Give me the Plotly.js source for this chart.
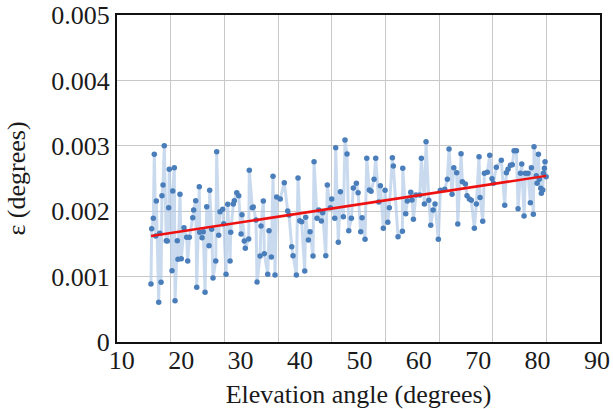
<!DOCTYPE html>
<html>
<head>
<meta charset="utf-8">
<script src="https://cdn.plot.ly/plotly-3.0.1.min.js"></script>
<style>html,body{margin:0;padding:0;background:#fff;}#chart{width:613px;height:409px;}</style>
</head>
<body>
<div id="chart"></div>
<script>
// Elevation angle (degrees)
const elevation = [
14.92,15.04,15.31,15.48,15.72,15.82,16.22,16.39,16.61,16.77,16.95,17.16,17.50,17.67,17.90,18.00,18.46,18.58,18.85,18.97,
19.35,19.47,19.80,20.02,20.48,20.93,21.10,21.38,21.95,22.11,22.45,22.62,23.05,23.12,23.51,23.72,24.02,24.30,24.69,24.80,
25.14,25.36,25.82,25.98,26.32,26.54,27.00,27.16,27.55,27.84,28.23,28.34,28.78,28.95,29.36,29.69,30.08,30.24,30.63,30.80,
31.37,31.47,31.98,32.14,32.60,32.77,33.28,33.44,33.83,34.00,34.57,34.79,35.18,35.46,35.80,36.08,36.68,37.36,37.93,38.16,
38.61,38.83,39.39,39.67,39.96,40.29,40.80,40.96,41.41,41.69,42.19,42.37,42.87,43.16,43.60,43.83,44.34,44.60,45.11,45.34,
45.85,46.01,46.45,46.80,47.30,47.58,47.92,48.21,48.65,48.98,49.49,49.78,50.22,50.45,50.95,51.24,51.68,51.96,52.47,52.75,
53.26,53.53,54.03,54.32,54.78,55.04,55.55,55.71,56.50,57.24,57.30,57.80,58.07,58.65,58.86,59.09,59.53,60.16,60.43,60.94,
61.22,61.68,62.01,62.40,62.73,63.29,63.63,64.37,64.81,65.09,65.60,65.89,66.38,66.56,67.11,67.33,67.84,68.12,68.51,68.84,
69.35,69.69,70.14,70.31,70.76,71.04,71.54,71.94,72.33,72.55,73.05,73.89,74.46,74.74,75.02,75.41,75.74,76.04,76.43,76.71,
77.10,77.33,77.72,77.94,78.39,78.78,78.95,79.28,79.40,79.79,79.91,80.13,80.30,80.53,80.63,80.87,80.97,81.14,81.25,81.43
];
// epsilon (degrees)
const epsilon = [
0.000887,0.001732,0.001891,0.002870,0.001621,0.002156,0.000607,0.001662,0.000913,0.002237,0.002401,0.003002,0.001549,0.001544,0.002054,0.002641,0.001090,0.002309,0.002665,0.000632,
0.001549,0.001265,0.002258,0.001274,0.001748,0.001601,0.001239,0.001601,0.001901,0.002018,0.002161,0.000836,0.002375,0.001677,0.001595,0.001687,0.000760,0.002069,0.001472,0.002320,
0.001723,0.000979,0.001239,0.002910,0.001631,0.001992,0.002029,0.001809,0.001035,0.002106,0.001239,0.001677,0.002110,0.002161,0.002283,0.002237,0.001651,0.001947,0.001544,0.001433,
0.001575,0.002625,0.002054,0.002064,0.001865,0.000917,0.001315,0.001774,0.002156,0.001350,0.001035,0.001702,0.001300,0.002534,0.001024,0.002217,0.002187,0.002436,0.002003,0.001942,
0.001457,0.001320,0.001024,0.002508,0.001855,0.001839,0.001086,0.001907,0.001560,0.001687,0.001315,0.002757,0.001891,0.002018,0.001850,0.001977,0.001320,0.002401,0.002054,0.002187,
0.001891,0.002971,0.001524,0.002298,0.001916,0.003089,0.002875,0.001702,0.001891,0.002355,0.002427,0.002283,0.001687,0.001901,0.001570,0.002809,0.002324,0.002304,0.002488,0.002809,
0.002141,0.002390,0.001739,0.002320,0.001830,0.002054,0.002818,0.002691,0.001610,0.001693,0.002656,0.001962,0.002156,0.002289,0.002171,0.001876,0.002248,0.002248,0.002809,0.002110,
0.003063,0.002167,0.001784,0.002018,0.002110,0.001570,0.002320,0.002335,0.002488,0.002951,0.002258,0.002665,0.002589,0.001804,0.002879,0.002451,0.002416,0.002237,0.002187,0.002167,
0.001739,0.002110,0.002833,0.002209,0.001846,0.002579,0.002595,0.002855,0.002497,0.002427,0.002671,0.002778,0.002090,0.002589,0.002641,0.002702,0.002711,0.002925,0.002925,0.002038,
0.002579,0.002722,0.001927,0.002579,0.002579,0.002130,0.002665,0.001953,0.002986,0.002543,0.002427,0.002870,0.002488,0.002350,0.002274,0.002324,0.002579,0.002656,0.002757,0.002528
];
// linear trend line end points
const trendX = [14.92, 81.43];
const trendY = [0.00162, 0.00254];

const xTickVals = [10, 20, 30, 40, 50, 60, 70, 80, 90];
const yTickVals = [0, 0.001, 0.002, 0.003, 0.004, 0.005];
const yTickText = ['0', '0.001', '0.002', '0.003', '0.004', '0.005'];

const font = {family: '"Liberation Serif", "Times New Roman", serif', size: 26, color: '#1a1a1a'};

const traces = [
  {x: [10, 100], y: [null, null], xaxis: 'x2', yaxis: 'y', mode: 'markers', hoverinfo: 'skip', showlegend: false},
  {x: elevation, y: epsilon, mode: 'lines+markers', type: 'scatter',
   line: {color: 'rgba(178,202,232,0.7)', width: 3},
   marker: {color: '#4a7ebb', size: 5.5}, showlegend: false},
  {x: trendX, y: trendY, mode: 'lines', type: 'scatter',
   line: {color: '#ee1111', width: 2.5}, showlegend: false}
];

const layout = {
  width: 613, height: 409,
  margin: {l: 117, r: 13, t: 15, b: 67},
  paper_bgcolor: '#ffffff', plot_bgcolor: '#ffffff',
  font: font,
  showlegend: false,
  xaxis: {
    range: [9.2, 90.5], tickvals: xTickVals, ticks: '', showgrid: false, zeroline: false,
    showline: true, mirror: true, linecolor: '#111', linewidth: 2,
    tickfont: font, ticklabelstandoff: -6,
    title: {text: 'Elevation angle (degrees)', font: font, standoff: 13}
  },
  xaxis2: {
    range: [10, 100], dtick: 10, overlaying: 'x', side: 'bottom', showticklabels: false, ticks: '',
    showgrid: true, gridcolor: '#c8c8c8', gridwidth: 1, zeroline: false, showline: false
  },
  yaxis: {
    range: [0, 0.005], tickvals: yTickVals, ticktext: yTickText, ticks: '',
    showgrid: true, gridcolor: '#c8c8c8', gridwidth: 1, zeroline: false,
    showline: true, mirror: true, linecolor: '#111', linewidth: 2,
    tickfont: font,
    title: {text: 'ε (degrees)', font: font, standoff: 18}
  }
};

Plotly.newPlot('chart', traces, layout, {staticPlot: true, displayModeBar: false});
</script>
</body>
</html>
